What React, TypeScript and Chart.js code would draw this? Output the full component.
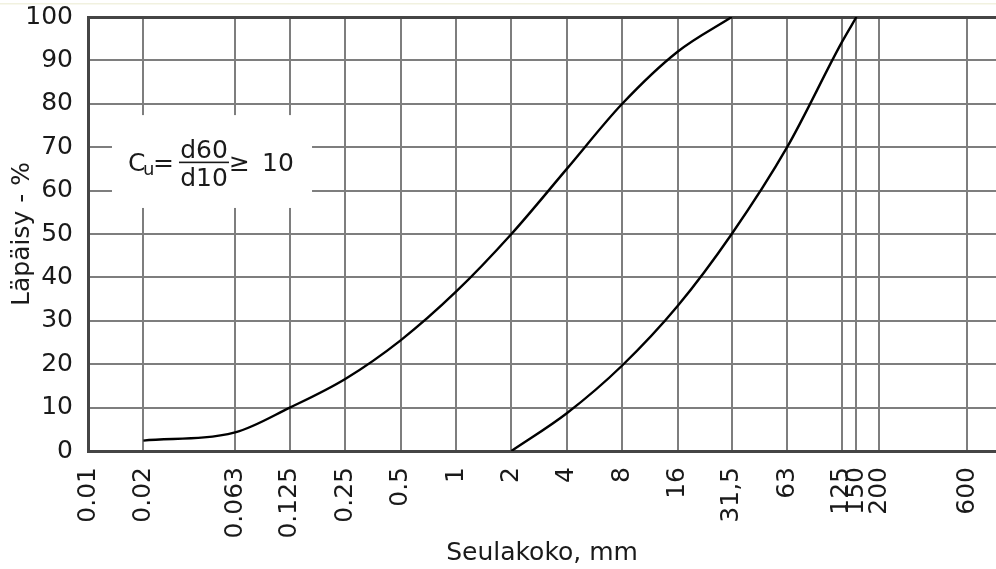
import React, { useEffect, useRef } from 'react';
import { Chart, registerables } from 'chart.js';

Chart.register(...registerables);

// ---- data ----
const X_TICKS = [0.01, 0.02, 0.063, 0.125, 0.25, 0.5, 1, 2, 4, 8, 16, 31.5, 63, 125, 150, 200, 600];
const X_TICK_LABELS = ['0.01', '0.02', '0.063', '0.125', '0.25', '0.5', '1', '2', '4', '8', '16', '31,5', '63', '125', '150', '200', '600'];
const Y_TICKS = [0, 10, 20, 30, 40, 50, 60, 70, 80, 90, 100];

const SIEVE_FINE = [0.02, 0.063, 0.125, 0.25, 0.5, 1, 2, 4, 8, 16, 31.5];
const PASS_FINE = [2.4, 4.3, 10, 16.6, 25.5, 36.7, 50, 65, 80, 92, 100];

const SIEVE_COARSE = [2, 4, 8, 16, 31.5, 63, 125, 150];
const PASS_COARSE = [0, 8.7, 19.7, 33.4, 50, 70, 94.2, 100];

const X_TITLE = 'Seulakoko, mm';
const Y_TITLE = 'Läpäisy - %';

// ---- layout / style ----
const X_MIN = 0.01;
const X_MAX = 860;
const NOTE_X = [0.0135, 0.165];
const NOTE_Y = [56, 77.4];
const FONT = '"DejaVu Sans", Verdana, sans-serif';
const FONT_SIZE = 25;
const TEXT = '#1a1a1a';
const GRID = '#7e7e7e';
const AXIS = '#454545';

const notePlugin = {
  id: 'note',
  beforeDatasetsDraw(chart: any) {
    const { ctx, scales } = chart;
    const x = scales.x;
    const y = scales.y;
    const left = x.getPixelForValue(NOTE_X[0]);
    const right = x.getPixelForValue(NOTE_X[1]);
    const top = y.getPixelForValue(NOTE_Y[1]);
    const bottom = y.getPixelForValue(NOTE_Y[0]);
    ctx.save();
    ctx.fillStyle = '#ffffff';
    ctx.fillRect(left, top, right - left, bottom - top);
    ctx.fillStyle = TEXT;
    ctx.textBaseline = 'alphabetic';
    ctx.textAlign = 'left';
    ctx.font = `25px ${FONT}`;
    ctx.fillText('C', left + 16, top + 56);
    ctx.font = `18px ${FONT}`;
    ctx.fillText('u', left + 31, top + 60);
    ctx.font = `25px ${FONT}`;
    ctx.fillText('=', left + 41, top + 56);
    const fx0 = left + 67;
    const fx1 = left + 117;
    const fc = (fx0 + fx1) / 2;
    ctx.textAlign = 'center';
    ctx.fillText('d60', fc, top + 43);
    ctx.fillText('d10', fc, top + 71);
    ctx.fillRect(fx0, top + 46.5, fx1 - fx0, 1.6);
    ctx.textAlign = 'left';
    ctx.fillText('≥', left + 117, top + 56);
    ctx.fillText('10', left + 150, top + 56);
    ctx.restore();
  },
};

const topLinePlugin = {
  id: 'topLine',
  beforeDraw(chart: any) {
    const { ctx, width } = chart;
    ctx.save();
    ctx.fillStyle = '#f1f1df';
    ctx.fillRect(0, 3, width, 1.5);
    ctx.restore();
  },
};

export default function App() {
  const canvasRef = useRef<HTMLCanvasElement | null>(null);

  useEffect(() => {
    const canvas = canvasRef.current;
    if (!canvas) return;
    const chart = new Chart(canvas, {
      type: 'line',
      data: {
        datasets: [
          {
            label: 'fine',
            data: SIEVE_FINE.map((v, i) => ({ x: v, y: PASS_FINE[i] })),
            borderColor: '#000000',
            borderWidth: 2.4,
            pointRadius: 0,
            cubicInterpolationMode: 'monotone',
            fill: false,
          },
          {
            label: 'coarse',
            data: SIEVE_COARSE.map((v, i) => ({ x: v, y: PASS_COARSE[i] })),
            borderColor: '#000000',
            borderWidth: 2.4,
            pointRadius: 0,
            cubicInterpolationMode: 'monotone',
            fill: false,
          },
        ],
      },
      options: {
        animation: false,
        responsive: false,
        maintainAspectRatio: false,
        layout: { padding: { top: 17, right: 0, left: 0, bottom: 0 } },
        plugins: {
          legend: { display: false },
          tooltip: { enabled: false },
        },
        scales: {
          x: {
            type: 'logarithmic',
            min: X_MIN,
            max: X_MAX,
            afterBuildTicks: (scale: any) => {
              scale.ticks = X_TICKS.map((v) => ({ value: v }));
            },
            afterFit: (scale: any) => {
              scale.height = 118;
              scale.paddingLeft = 0;
              scale.paddingRight = 0;
            },
            ticks: {
              autoSkip: false,
              minRotation: 90,
              maxRotation: 90,
              padding: 16,
              color: TEXT,
              font: { family: FONT, size: FONT_SIZE },
              callback: (_v: any, i: number) => X_TICK_LABELS[i],
            },
            grid: {
              color: GRID,
              lineWidth: 2,
              drawTicks: false,
            },
            border: { display: true, color: AXIS, width: 3 },
            title: {
              display: true,
              text: X_TITLE,
              color: TEXT,
              font: { family: FONT, size: FONT_SIZE },
              padding: { top: 0, bottom: 1 },
            },
          },
          y: {
            type: 'linear',
            min: 0,
            max: 100,
            afterBuildTicks: (scale: any) => {
              scale.ticks = Y_TICKS.map((v) => ({ value: v }));
            },
            afterFit: (scale: any) => {
              scale.width = 88;
              scale.paddingTop = 0;
              scale.paddingBottom = 0;
            },
            ticks: {
              padding: 15,
              color: TEXT,
              font: { family: FONT, size: FONT_SIZE },
            },
            grid: {
              color: (c: any) => (c.tick && c.tick.value === 100 ? AXIS : GRID),
              lineWidth: (c: any) => (c.tick && c.tick.value === 100 ? 3 : 2),
              drawTicks: false,
            },
            border: { display: true, color: AXIS, width: 3 },
            title: {
              display: true,
              text: Y_TITLE,
              color: TEXT,
              font: { family: FONT, size: FONT_SIZE },
              padding: { top: 7, bottom: 0 },
            },
          },
        },
      } as any,
      plugins: [notePlugin, topLinePlugin],
    });
    return () => chart.destroy();
  }, []);

  return (
    <div style={{ position: 'fixed', left: 0, top: 0, width: 996, height: 569, background: '#ffffff', overflow: 'hidden' }}>
      <canvas ref={canvasRef} width={996} height={569} style={{ display: 'block', width: 996, height: 569 }} />
    </div>
  );
}
